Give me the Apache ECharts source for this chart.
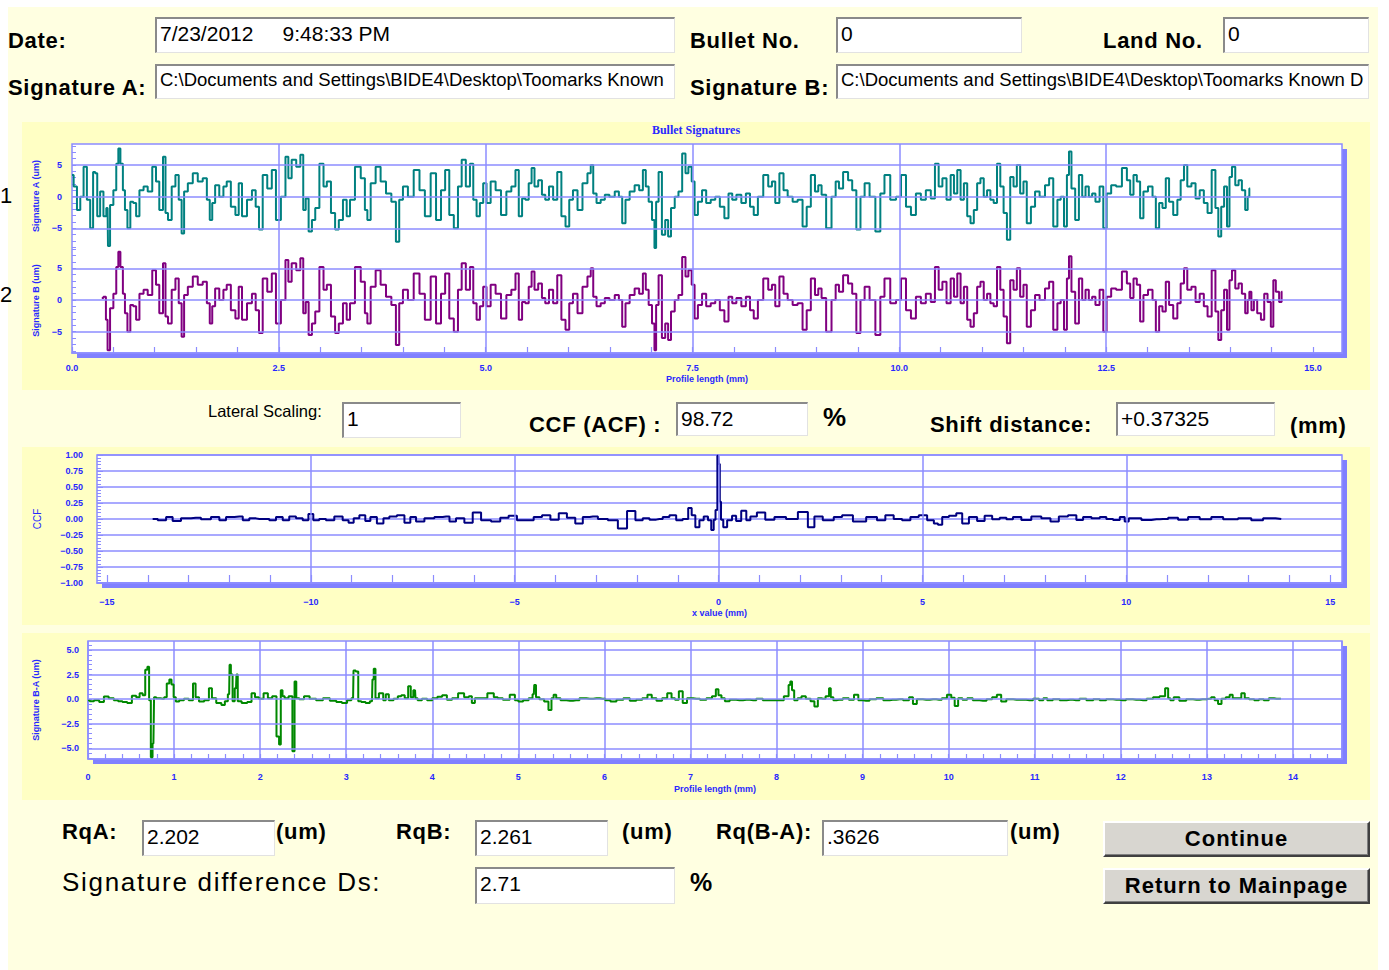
<!DOCTYPE html>
<html>
<head>
<meta charset="utf-8">
<title>Bullet Signatures</title>
<script src="https://cdn.jsdelivr.net/npm/echarts@6/dist/echarts.min.js"></script>
<style>
  html, body { margin: 0; padding: 0; background: #ffffff; }
  #page { position: relative; width: 1389px; height: 970px; overflow: hidden; background: #ffffff;
          font-family: Arial, "Liberation Sans", sans-serif; }
  #formBg { position: absolute; left: 8px; top: 7px; width: 1370px; height: 963px; background: #ffffe1; }
  #chart { position: absolute; left: 0; top: 0; width: 1389px; height: 970px; }
  .lbl { position: absolute; white-space: nowrap; color: #000; line-height: 1; }
  .b { font-weight: bold; font-size: 22px; letter-spacing: 0.7px; }
  .box { position: absolute; box-sizing: border-box; background: #fff; overflow: hidden; white-space: nowrap;
         border-top: 2px solid #8a8a8a; border-left: 2px solid #8a8a8a;
         border-right: 1px solid #e2e2e2; border-bottom: 1px solid #e2e2e2;
         font-size: 21px; line-height: 1; padding: 4px 0 0 3px; color: #000; }
  .box.path { font-size: 18.5px; padding-top: 5px; }
  .btn { position: absolute; box-sizing: border-box; background: #d8d6d0; text-align: center;
         border-top: 2px solid #ffffff; border-left: 2px solid #ffffff;
         border-right: 2px solid #404040; border-bottom: 2px solid #404040;
         box-shadow: inset -1px -1px 0 #808080;
         font-weight: bold; font-size: 22px; letter-spacing: 1px; line-height: 32px; color: #000; }
</style>
</head>
<body>
<div id="page">
  <div id="formBg"></div>
  <div id="chart"></div>

  <div class="lbl" style="left:0px;top:185px;font-size:22px;">1</div>
  <div class="lbl" style="left:0px;top:284px;font-size:22px;">2</div>

  <div class="lbl b" style="left:8px;top:30px;">Date:</div>
  <div class="box" style="left:155px;top:17px;width:520px;height:36px;">7/23/2012&nbsp;&nbsp;&nbsp;&nbsp;&nbsp;9:48:33 PM</div>
  <div class="lbl b" style="left:690px;top:30px;">Bullet No.</div>
  <div class="box" style="left:836px;top:17px;width:186px;height:36px;">0</div>
  <div class="lbl b" style="left:1103px;top:30px;">Land No.</div>
  <div class="box" style="left:1223px;top:17px;width:146px;height:36px;">0</div>

  <div class="lbl b" style="left:8px;top:77px;">Signature A:</div>
  <div class="box path" style="left:155px;top:64px;width:520px;height:35px;">C:\Documents and Settings\BIDE4\Desktop\Toomarks Known</div>
  <div class="lbl b" style="left:690px;top:77px;">Signature B:</div>
  <div class="box path" style="left:836px;top:64px;width:533px;height:35px;">C:\Documents and Settings\BIDE4\Desktop\Toomarks Known D</div>

  <div class="lbl" style="left:208px;top:403px;font-size:16.5px;">Lateral Scaling:</div>
  <div class="box" style="left:342px;top:402px;width:119px;height:36px;">1</div>
  <div class="lbl b" style="left:529px;top:414px;">CCF (ACF) :</div>
  <div class="box" style="left:676px;top:402px;width:132px;height:34px;">98.72</div>
  <div class="lbl" style="left:823px;top:404px;font-size:26px;font-weight:bold;">%</div>
  <div class="lbl b" style="left:930px;top:414px;">Shift distance:</div>
  <div class="box" style="left:1116px;top:402px;width:159px;height:34px;">+0.37325</div>
  <div class="lbl b" style="left:1290px;top:415px;">(mm)</div>

  <div class="lbl b" style="left:62px;top:821px;">RqA:</div>
  <div class="box" style="left:142px;top:820px;width:133px;height:36px;">2.202</div>
  <div class="lbl b" style="left:276px;top:821px;">(um)</div>
  <div class="lbl b" style="left:396px;top:821px;">RqB:</div>
  <div class="box" style="left:475px;top:820px;width:133px;height:36px;">2.261</div>
  <div class="lbl b" style="left:622px;top:821px;">(um)</div>
  <div class="lbl b" style="left:716px;top:821px;">Rq(B-A):</div>
  <div class="box" style="left:822px;top:820px;width:186px;height:36px;">.3626</div>
  <div class="lbl b" style="left:1010px;top:821px;">(um)</div>

  <div class="lbl" style="left:62px;top:869px;font-size:26px;letter-spacing:1.7px;">Signature difference Ds:</div>
  <div class="box" style="left:475px;top:867px;width:200px;height:37px;">2.71</div>
  <div class="lbl" style="left:690px;top:870px;font-size:25px;font-weight:bold;">%</div>

  <div class="btn" style="left:1103px;top:821px;width:267px;height:36px;">Continue</div>
  <div class="btn" style="left:1103px;top:868px;width:267px;height:36px;">Return to Mainpage</div>
</div>

<script>
// ---- Profile data (mm, um) ----
const signatureA = [
  [0.00,3.4],[0.04,1.6],[0.08,-2.1],[0.12,0],[0.16,4.7],[0.20,-0.5],[0.24,-5.0],[0.27,3.9],[0.29,3.7],[0.32,-3.1],
  [0.36,0.8],[0.40,-3.1],[0.43,-1.8],[0.44,-7.8],[0.48,-1.3],[0.52,1.0],[0.55,5.2],[0.57,7.6],[0.60,5.2],[0.63,1.0],
  [0.65,-2.1],[0.69,-5.0],[0.72,-0.8],[0.76,-1.0],[0.79,-3.1],[0.84,1.0],[0.89,1.6],[0.94,0.8],[1.00,4.7],[1.03,2.4],
  [1.08,-2.1],[1.12,6.3],[1.14,-2.6],[1.18,-3.7],[1.23,1.6],[1.27,3.4],[1.31,-0.5],[1.34,-5.8],[1.37,0.8],[1.43,2.1],
  [1.49,3.7],[1.55,2.4],[1.61,2.9],[1.65,-0.5],[1.68,-3.7],[1.71,-1.0],[1.75,1.8],[1.81,0],[1.85,1.6],[1.89,2.4],
  [1.95,-1.6],[2.00,-2.9],[2.03,2.1],[2.08,-3.1],[2.15,-0.5],[2.20,1.0],[2.24,-1.6],[2.28,-5.2],[2.33,3.4],[2.39,1.3],
  [2.44,4.2],[2.49,-3.7],[2.56,0],[2.60,6.3],[2.63,2.9],[2.68,5.8],[2.74,4.7],[2.78,6.6],[2.81,-2.1],[2.84,-0.3],
  [2.88,-5.5],[2.92,-3.7],[2.96,-1.8],[3.02,5.2],[3.06,1.6],[3.10,2.4],[3.16,-2.6],[3.20,-5.2],[3.25,-3.7],[3.30,-0.5],
  [3.34,-3.1],[3.38,-0.5],[3.46,4.7],[3.52,2.9],[3.56,-2.1],[3.58,-3.7],[3.64,2.1],[3.70,4.7],[3.76,2.4],[3.83,0.5],
  [3.89,-0.8],[3.94,-7.1],[3.97,-0.5],[4.03,1.6],[4.09,0],[4.17,4.2],[4.23,1.0],[4.30,-3.1],[4.37,3.7],[4.43,-3.7],
  [4.49,1.0],[4.53,4.2],[4.59,-2.9],[4.64,-5.0],[4.69,1.6],[4.73,5.8],[4.79,1.6],[4.83,5.2],[4.87,-0.5],[4.91,-3.1],
  [4.95,-1.0],[4.99,2.1],[5.03,-1.0],[5.09,2.4],[5.15,1.0],[5.22,-2.9],[5.28,0.8],[5.34,1.6],[5.38,4.2],[5.42,-3.1],
  [5.46,-0.3],[5.50,-0.5],[5.54,2.1],[5.57,4.5],[5.61,1.6],[5.66,2.6],[5.70,0.3],[5.74,-0.5],[5.79,1.6],[5.84,-0.5],
  [5.89,3.9],[5.94,-3.1],[5.99,-4.7],[6.03,-0.5],[6.08,1.0],[6.14,-2.1],[6.20,2.1],[6.26,3.7],[6.28,5.0],[6.32,0.5],
  [6.36,-1.0],[6.42,-0.5],[6.46,0.3],[6.53,0],[6.59,0.8],[6.63,0],[6.67,-4.2],[6.71,-0.5],[6.77,0.8],[6.83,1.8],
  [6.88,1.0],[6.92,4.2],[6.95,1.6],[6.99,-0.8],[7.03,-3.7],[7.05,-8.1],[7.07,-0.8],[7.11,3.9],[7.15,-6.0],[7.19,-3.7],
  [7.22,-6.3],[7.26,-1.8],[7.31,0],[7.35,0.8],[7.40,6.8],[7.43,3.7],[7.47,4.7],[7.51,2.4],[7.54,-2.9],[7.59,-0.8],
  [7.64,1.0],[7.69,-1.0],[7.75,-0.5],[7.80,0],[7.86,-1.6],[7.91,-3.4],[7.96,0.5],[8.00,-0.5],[8.06,0.3],[8.12,-1.0],
  [8.17,0.5],[8.22,-1.6],[8.26,-2.9],[8.32,0],[8.39,3.4],[8.44,1.6],[8.48,2.4],[8.52,-1.0],[8.58,3.7],[8.62,1.0],
  [8.68,0],[8.74,-0.8],[8.80,-0.5],[8.86,-4.7],[8.90,-1.6],[8.96,3.4],[9.00,0.8],[9.04,1.8],[9.08,0.3],[9.15,-5.0],
  [9.21,0],[9.25,2.4],[9.29,1.3],[9.35,3.9],[9.41,2.6],[9.45,1.0],[9.51,-5.2],[9.55,0],[9.61,2.1],[9.67,0],
  [9.75,-5.5],[9.79,0.5],[9.85,3.4],[9.93,-0.5],[9.99,0],[10.05,3.4],[10.11,-1.6],[10.17,-2.9],[10.23,0.5],[10.29,-0.5],
  [10.35,1.0],[10.41,-0.3],[10.45,5.2],[10.50,1.6],[10.54,2.9],[10.60,-0.5],[10.64,3.4],[10.68,0.5],[10.72,4.2],[10.76,-0.5],
  [10.80,2.1],[10.84,-3.1],[10.88,-4.2],[10.92,-2.1],[10.96,2.1],[11.00,2.9],[11.04,0],[11.08,1.0],[11.12,-0.5],[11.16,-1.0],
  [11.20,5.2],[11.24,1.6],[11.28,-2.6],[11.32,-6.8],[11.36,3.1],[11.40,1.6],[11.44,5.0],[11.48,0.5],[11.52,2.4],[11.56,-4.2],
  [11.62,-1.6],[11.66,0.8],[11.73,0],[11.79,1.8],[11.83,2.9],[11.89,-4.7],[11.93,-0.5],[11.97,0],[12.01,-4.7],[12.04,3.4],
  [12.06,7.1],[12.10,1.3],[12.15,-3.7],[12.19,3.4],[12.23,0],[12.27,1.6],[12.31,0],[12.35,0.5],[12.39,-0.8],[12.45,1.6],
  [12.48,-5.0],[12.53,0.5],[12.59,1.8],[12.65,1.6],[12.73,4.5],[12.77,2.6],[12.81,0.3],[12.85,3.4],[12.89,2.4],[12.93,-3.4],
  [12.97,0.8],[13.04,1.6],[13.08,0],[13.12,-5.0],[13.16,-1.0],[13.20,-1.8],[13.24,2.9],[13.28,-0.8],[13.34,-2.9],[13.38,-0.5],
  [13.42,2.6],[13.46,5.0],[13.50,1.6],[13.56,2.1],[13.60,-0.3],[13.66,1.0],[13.70,-1.0],[13.75,-2.6],[13.80,4.2],[13.84,-1.8],
  [13.87,-6.3],[13.91,-1.6],[13.94,1.6],[13.98,-4.7],[14.00,3.1],[14.04,4.7],[14.08,1.8],[14.12,2.6],[14.16,1.0],[14.20,-2.1],
  [14.22,0],[14.24,1.3]
];

const signatureB = [
  [0.36,0.3],[0.40,0.5],[0.42,-3.1],[0.44,-7.9],[0.48,-1.3],[0.52,1.0],[0.55,5.2],[0.57,7.6],[0.60,5.2],[0.63,1.0],
  [0.65,-2.1],[0.69,-5.0],[0.72,-0.8],[0.76,-1.0],[0.79,-3.1],[0.84,1.0],[0.89,1.6],[0.94,0.8],[1.00,4.7],[1.03,2.4],
  [1.08,-2.1],[1.12,5.8],[1.14,-2.6],[1.18,-3.7],[1.23,1.6],[1.27,3.4],[1.31,-0.5],[1.34,-5.8],[1.37,0.8],[1.43,2.1],
  [1.49,3.7],[1.55,2.4],[1.61,2.9],[1.65,-0.5],[1.68,-3.7],[1.71,-1.0],[1.75,1.8],[1.81,0],[1.85,1.6],[1.89,2.4],
  [1.95,-1.6],[2.00,-2.9],[2.03,2.1],[2.08,-3.1],[2.15,-0.5],[2.20,1.0],[2.24,-1.6],[2.28,-5.2],[2.33,3.4],[2.39,1.3],
  [2.44,4.2],[2.49,-3.7],[2.56,0],[2.60,6.3],[2.63,2.9],[2.68,5.8],[2.74,4.7],[2.78,6.6],[2.81,-2.1],[2.84,-0.3],
  [2.88,-5.5],[2.92,-3.7],[2.96,-1.8],[3.02,5.2],[3.06,1.6],[3.10,2.4],[3.16,-2.6],[3.20,-5.2],[3.25,-3.7],[3.30,-0.5],
  [3.34,-3.1],[3.38,-0.5],[3.46,5.2],[3.52,2.9],[3.56,-2.1],[3.58,-3.7],[3.64,2.1],[3.70,4.7],[3.76,2.4],[3.83,0.5],
  [3.89,-0.8],[3.94,-7.1],[3.97,-0.5],[4.03,1.6],[4.09,0],[4.17,4.2],[4.23,1.0],[4.30,-3.1],[4.37,3.7],[4.43,-3.7],
  [4.49,1.0],[4.53,4.2],[4.59,-2.9],[4.64,-5.0],[4.69,1.6],[4.73,5.8],[4.79,1.6],[4.83,5.2],[4.87,-0.5],[4.91,-3.1],
  [4.95,-1.0],[4.99,2.1],[5.03,-1.0],[5.09,2.4],[5.15,1.0],[5.22,-2.9],[5.28,0.8],[5.34,1.6],[5.38,4.2],[5.42,-3.1],
  [5.46,-0.3],[5.50,-0.5],[5.54,2.1],[5.57,4.5],[5.61,1.6],[5.66,2.6],[5.70,0.3],[5.74,-0.5],[5.79,1.6],[5.84,-0.5],
  [5.89,3.9],[5.94,-3.1],[5.99,-4.7],[6.03,-0.5],[6.08,1.0],[6.14,-2.1],[6.20,2.1],[6.26,3.7],[6.28,5.0],[6.32,0.5],
  [6.36,-1.0],[6.42,-0.5],[6.46,0.3],[6.53,0],[6.59,0.8],[6.63,0],[6.67,-4.2],[6.71,-0.5],[6.77,0.8],[6.83,1.8],
  [6.88,1.0],[6.92,4.2],[6.95,1.6],[6.99,-0.8],[7.03,-3.7],[7.05,-7.9],[7.07,-0.8],[7.11,3.9],[7.15,-6.0],[7.19,-3.7],
  [7.22,-6.3],[7.26,-1.8],[7.31,0],[7.35,0.8],[7.40,6.8],[7.43,3.7],[7.47,4.7],[7.51,2.4],[7.54,-2.9],[7.59,-0.8],
  [7.64,1.0],[7.69,-1.0],[7.75,-0.5],[7.80,0],[7.86,-1.6],[7.91,-3.4],[7.96,0.5],[8.00,-0.5],[8.06,0.3],[8.12,-1.0],
  [8.17,0.5],[8.22,-1.6],[8.26,-2.9],[8.32,0],[8.39,3.4],[8.44,1.6],[8.48,2.4],[8.52,-1.0],[8.58,3.7],[8.62,1.0],
  [8.68,0],[8.74,-0.8],[8.80,-0.5],[8.86,-4.7],[8.90,-1.6],[8.96,3.4],[9.00,0.8],[9.04,1.8],[9.08,0.3],[9.15,-5.0],
  [9.21,0],[9.25,2.4],[9.29,1.3],[9.35,3.9],[9.41,2.6],[9.45,1.0],[9.51,-5.2],[9.55,0],[9.61,2.1],[9.67,0],
  [9.75,-5.5],[9.79,0.5],[9.85,3.4],[9.93,-0.5],[9.99,0],[10.05,3.4],[10.11,-1.6],[10.17,-2.9],[10.23,0.5],[10.29,-0.5],
  [10.35,1.0],[10.41,-0.3],[10.45,5.2],[10.50,1.6],[10.54,2.9],[10.60,-0.5],[10.64,3.4],[10.68,0.5],[10.72,4.2],[10.76,-0.5],
  [10.80,2.1],[10.84,-3.1],[10.88,-4.2],[10.92,-2.1],[10.96,2.1],[11.00,2.9],[11.04,0],[11.08,1.0],[11.12,-0.5],[11.16,-1.0],
  [11.20,5.2],[11.24,1.6],[11.28,-2.6],[11.32,-6.8],[11.36,3.1],[11.40,1.6],[11.44,5.0],[11.48,0.5],[11.52,2.4],[11.56,-4.2],
  [11.62,-1.6],[11.66,0.8],[11.73,0],[11.79,1.8],[11.83,2.9],[11.89,-4.7],[11.93,-0.5],[11.97,0],[12.01,-4.7],[12.04,3.4],
  [12.06,6.9],[12.10,1.3],[12.15,-3.7],[12.19,3.4],[12.23,0],[12.27,1.6],[12.31,0],[12.35,0.5],[12.39,-0.8],[12.45,1.6],
  [12.48,-5.0],[12.53,0.5],[12.59,1.8],[12.65,1.6],[12.73,4.5],[12.77,2.6],[12.81,0.3],[12.85,3.4],[12.89,2.4],[12.93,-3.4],
  [12.97,0.8],[13.04,1.6],[13.08,0],[13.12,-5.0],[13.16,-1.0],[13.20,-1.8],[13.24,2.9],[13.28,-0.8],[13.34,-2.9],[13.38,-0.5],
  [13.42,2.6],[13.46,5.0],[13.50,1.6],[13.56,2.1],[13.60,-0.3],[13.66,1.0],[13.70,-1.0],[13.75,-2.6],[13.80,4.7],[13.84,-1.8],
  [13.87,-6.3],[13.91,-1.6],[13.94,1.6],[13.98,-4.7],[14.00,3.1],[14.04,4.7],[14.08,1.8],[14.12,2.6],[14.16,1.0],[14.20,-2.1],
  [14.22,0],[14.24,1.3],[14.27,-1.6],[14.30,0],[14.35,-2.1],[14.39,-3.1],[14.43,1.0],[14.47,-0.3],[14.51,-4.2],[14.53,3.1],
  [14.57,1.3],[14.61,-0.3],[14.63,1.3]
];

// cross-correlation function against shift (mm)
const ccfCurve = [
  [-13.88,0],[-13.63,-0.02],[-13.47,0.03],[-13.31,-0.03],[-13.06,0.01],[-12.82,0.02],[-12.57,-0.005],[-12.33,0.03],
  [-12.16,-0.02],[-12.0,0.03],[-11.75,0.04],[-11.59,-0.02],[-11.43,0.01],[-11.26,0.0],[-11.1,0.0],[-10.94,-0.02],
  [-10.77,0.03],[-10.61,-0.02],[-10.45,0.04],[-10.28,0.01],[-10.12,-0.02],[-10.0,0.08],[-9.88,-0.02],[-9.71,0.0],
  [-9.55,-0.02],[-9.3,0.04],[-9.14,-0.02],[-9.01,-0.06],[-8.89,0.01],[-8.73,0.06],[-8.6,-0.03],[-8.48,0.03],
  [-8.28,-0.07],[-8.16,0.01],[-7.99,0.04],[-7.79,0.06],[-7.62,-0.06],[-7.5,0.03],[-7.34,-0.04],[-7.09,0.01],
  [-6.85,0.03],[-6.68,0.04],[-6.52,-0.04],[-6.36,0.01],[-6.11,-0.06],[-5.95,0.1],[-5.70,-0.02],[-5.46,-0.04],
  [-5.25,0.02],[-5.05,0.05],[-4.84,-0.02],[-4.64,-0.02],[-4.43,0.03],[-4.23,0.06],[-4.02,-0.01],[-3.82,0.09],
  [-3.62,0.02],[-3.41,-0.07],[-3.25,0.03],[-3.08,0.04],[-2.84,0.0],[-2.59,-0.02],[-2.35,-0.15],[-2.14,0.125],
  [-1.94,-0.02],[-1.78,0.01],[-1.61,-0.01],[-1.45,0.0],[-1.29,0.03],[-1.12,0.06],[-0.96,-0.02],[-0.80,0.0],
  [-0.69,0.17],[-0.63,0.06],[-0.51,-0.13],[-0.43,-0.02],[-0.30,0.04],[-0.22,-0.02],[-0.14,-0.17],[-0.10,-0.01],
  [-0.05,0.14],[-0.01,0.9872],[0.02,0.86],[0.04,0.27],[0.08,-0.01],[0.15,-0.13],[0.27,-0.02],[0.39,0.05],
  [0.47,-0.03],[0.64,0.13],[0.72,-0.02],[0.84,0.04],[1.04,0.10],[1.25,-0.01],[1.49,0.03],[1.82,0.0],
  [2.07,0.11],[2.31,-0.13],[2.39,0.04],[2.72,-0.02],[2.93,0.03],[3.13,0.06],[3.46,-0.04],[3.78,0.03],
  [3.99,-0.02],[4.19,0.06],[4.40,0.0],[4.60,-0.02],[4.81,0.03],[5.01,0.06],[5.22,-0.02],[5.34,-0.07],
  [5.42,-0.09],[5.55,0.03],[5.75,0.05],[5.91,0.09],[6.04,-0.07],[6.24,0.03],[6.44,-0.03],[6.61,0.05],
  [6.81,-0.005],[6.98,0.02],[7.14,-0.005],[7.30,0.03],[7.55,-0.015],[7.79,0.04],[8.04,0.01],[8.24,-0.04],
  [8.45,0.04],[8.69,0.06],[8.86,-0.015],[9.02,0.03],[9.27,0.01],[9.43,0.03],[9.59,0.0],[9.76,-0.015],
  [9.92,0.03],[10.0,-0.04],[10.12,0.01],[10.25,0.01],[10.49,-0.015],[10.74,-0.005],[10.90,0.0],[11.15,0.02],
  [11.39,-0.01],[11.64,0.03],[11.96,-0.005],[12.21,0.03],[12.54,-0.005],[12.94,0.01],[13.19,-0.02],[13.52,0.01],
  [13.80,0.0]
];

// signature difference B - A over the overlapping length (mm, um)
const differenceBA = [
  [0.00,-0.1],[0.04,-0.2],[0.10,-0.1],[0.16,-0.3],[0.21,0.27],[0.27,0.1],[0.33,-0.1],[0.37,-0.2],[0.43,-0.3],[0.48,-0.4],
  [0.54,0.35],[0.58,0.2],[0.62,0.6],[0.65,0.4],[0.68,3.0],[0.70,3.3],[0.72,-0.1],[0.74,-5.9],[0.76,-4.5],[0.775,0.2],
  [0.81,0.1],[0.87,0.05],[0.90,0.2],[0.93,1.6],[0.96,2.0],[0.98,1.5],[1.01,0.2],[1.03,-0.25],[1.09,-0.1],[1.14,0.05],
  [1.20,-0.1],[1.24,1.6],[1.26,0.2],[1.32,-0.25],[1.38,-0.1],[1.43,1.1],[1.45,0.1],[1.53,-0.4],[1.57,-0.6],[1.61,-0.2],
  [1.64,0.5],[1.65,3.5],[1.67,2.5],[1.69,-0.2],[1.72,1.1],[1.73,2.5],[1.75,-0.2],[1.82,-0.4],[1.88,-0.3],[1.92,0.6],
  [1.96,0.2],[2.01,0.05],[2.07,0.6],[2.11,0.1],[2.17,0.3],[2.21,-3.8],[2.23,-4.6],[2.25,0.9],[2.27,0.3],[2.30,0.1],
  [2.36,0.3],[2.39,-5.3],[2.41,1.8],[2.43,0.1],[2.48,0],[2.54,0.3],[2.61,0.05],[2.69,-0.1],[2.77,0.1],[2.85,-0.15],
  [2.92,-0.3],[2.98,-0.4],[3.04,-0.1],[3.08,0.1],[3.09,2.9],[3.13,2.8],[3.15,-0.2],[3.20,-0.3],[3.25,-0.4],[3.30,-0.2],
  [3.31,2.0],[3.33,3.1],[3.35,0.1],[3.41,0.6],[3.45,-0.1],[3.47,0.5],[3.52,-0.1],[3.58,0.05],[3.62,0.3],[3.66,0.4],
  [3.70,0.1],[3.74,1.3],[3.76,0.2],[3.80,0.9],[3.81,0.1],[3.85,-0.1],[3.91,0.05],[3.97,-0.1],[4.03,0.1],[4.09,0.25],
  [4.14,0.4],[4.20,-0.05],[4.26,0.1],[4.34,0.6],[4.40,0.2],[4.45,0.3],[4.47,-0.4],[4.52,0.1],[4.59,0.1],[4.69,0.6],
  [4.74,0.2],[4.78,0.1],[4.86,-0.05],[4.94,0.45],[4.98,-0.1],[5.02,-0.25],[5.09,-0.1],[5.15,0.1],[5.18,0.5],[5.19,1.45],
  [5.22,0.2],[5.27,0],[5.33,-0.25],[5.37,-1.1],[5.40,0.1],[5.42,0.45],[5.46,0.1],[5.52,-0.1],[5.60,-0.15],[5.67,-0.1],
  [5.75,0.1],[5.83,0.05],[5.91,0.1],[5.98,0.05],[6.04,-0.1],[6.10,-0.25],[6.18,-0.05],[6.26,0.1],[6.33,-0.15],[6.41,-0.05],
  [6.47,0.1],[6.53,0.45],[6.57,0.1],[6.64,-0.15],[6.70,0.1],[6.76,0.6],[6.80,0.1],[6.84,-0.05],[6.89,0.8],[6.93,-0.4],
  [6.99,0.1],[7.07,0.05],[7.15,-0.05],[7.22,0.1],[7.28,0.3],[7.31,1.0],[7.34,0.4],[7.38,0.1],[7.42,-0.2],[7.49,-0.05],
  [7.57,-0.1],[7.65,-0.05],[7.73,-0.1],[7.80,0.05],[7.88,-0.1],[7.96,-0.1],[8.04,-0.1],[8.13,0.3],[8.15,1.45],[8.17,1.8],
  [8.19,0.9],[8.22,-0.1],[8.27,0.1],[8.31,0.3],[8.37,0.05],[8.42,-0.2],[8.46,-0.75],[8.50,0.1],[8.54,0.05],[8.60,0.3],
  [8.62,1.1],[8.64,0.2],[8.68,-0.1],[8.73,-0.05],[8.81,0.1],[8.87,-0.05],[8.93,0.45],[8.97,-0.1],[9.04,-0.15],[9.12,0],
  [9.20,0.1],[9.28,-0.1],[9.35,-0.05],[9.43,0],[9.51,-0.1],[9.57,0.2],[9.60,-0.5],[9.66,0],[9.74,-0.05],[9.82,0],
  [9.89,-0.05],[9.95,0.1],[10.01,0.45],[10.05,0.15],[10.09,-0.7],[10.13,0.1],[10.19,-0.05],[10.24,0.1],[10.32,-0.1],[10.40,-0.15],
  [10.48,0],[10.53,0.2],[10.59,0.45],[10.63,-0.25],[10.71,0],[10.79,-0.05],[10.86,-0.05],[10.94,-0.1],[11.02,0.05],[11.08,-0.1],
  [11.12,0.1],[11.17,-0.1],[11.25,0],[11.33,-0.1],[11.41,-0.05],[11.48,-0.1],[11.56,0.05],[11.64,-0.1],[11.72,0],[11.79,-0.1],
  [11.87,0],[11.95,-0.05],[12.02,-0.1],[12.10,0],[12.18,-0.05],[12.26,-0.1],[12.34,0.05],[12.41,0.2],[12.49,0.3],[12.54,1.1],
  [12.56,0.1],[12.59,-0.1],[12.64,0.2],[12.72,-0.15],[12.80,0],[12.88,-0.05],[12.95,0],[13.03,0.05],[13.07,0.2],[13.11,-0.1],
  [13.15,-0.5],[13.19,0.05],[13.25,0.2],[13.28,0.45],[13.32,0.1],[13.38,0.1],[13.42,0.6],[13.46,0.1],[13.52,0],[13.58,-0.1],
  [13.63,0],[13.69,-0.1],[13.75,0.1],[13.81,0.05],[13.86,0.05]
];

// ---- Tick labels ----
const sigXLabels = [0, 2.5, 5, 7.5, 10, 12.5, 15];
const sigYLabels = [-5, 0, 5];
const ccfXLabels = [-15, -10, -5, 0, 5, 10, 15];
const difYLabels = [-5, -2.5, 0, 2.5, 5];

// ---- Layout & style ----
const TXT = '#2828ff';
const GRID = '#8c8cff';
const SHADOW = '#8080ff';
const PANEL = '#ffffc4';
const axisFont = { color: TXT, fontSize: 9, fontWeight: 'bold', fontFamily: 'Arial, "Liberation Sans", sans-serif' };
const nameFont = { color: TXT, fontSize: 9, fontWeight: 'bold', fontFamily: 'Arial, "Liberation Sans", sans-serif' };

const plotSig = { left: 72, top: 144, width: 1270, height: 209 };
const plotCcf = { left: 97, top: 455, width: 1245, height: 128 };
const plotDif = { left: 88, top: 641, width: 1254, height: 118 };
const sigSplit = 104; // height of the upper (signature A) band

function steps(from, to, step) {
  const out = [];
  for (let v = from; v <= to + 1e-9; v += step) out.push(Math.round(v * 1000) / 1000);
  return out;
}
const minus = v => String(v).replace('-', '\u2212');

function gridLines(hVals, vVals) {
  const data = [];
  hVals.forEach(v => data.push({ yAxis: v }));
  vVals.forEach(v => data.push({ xAxis: v }));
  return {
    silent: true, symbol: 'none', animation: false,
    label: { show: false },
    lineStyle: { color: GRID, width: 1.5, type: 'solid' },
    emphasis: { disabled: true },
    data
  };
}

function plotFrame(p) {
  return [
    { type: 'rect', z: -9, silent: true,
      shape: { x: p.left + 5, y: p.top + 5, width: p.width, height: p.height },
      style: { fill: SHADOW } },
    { type: 'rect', z: -8, silent: true,
      shape: { x: p.left, y: p.top, width: p.width, height: p.height },
      style: { fill: '#ffffff', stroke: GRID, lineWidth: 1.5 } }
  ];
}

const xLine = { show: true, onZero: false, lineStyle: { color: GRID, width: 1.5 } };
const yLine = { show: false, onZero: false };
const yTickCommon = { show: true, inside: true, length: 4, lineStyle: { color: GRID, width: 1 } };

const option = {
  animation: false,
  backgroundColor: 'transparent',
  graphic: [
    { type: 'rect', z: -10, silent: true, shape: { x: 22, y: 122, width: 1348, height: 268 }, style: { fill: PANEL } },
    { type: 'rect', z: -10, silent: true, shape: { x: 22, y: 447, width: 1348, height: 178 }, style: { fill: PANEL } },
    { type: 'rect', z: -10, silent: true, shape: { x: 22, y: 633, width: 1348, height: 167 }, style: { fill: PANEL } },
    ...plotFrame(plotSig), ...plotFrame(plotCcf), ...plotFrame(plotDif),
    { type: 'text', z: 5, silent: true, x: 696, y: 130,
      style: { text: 'Bullet Signatures', fill: TXT, font: 'bold 12px "Liberation Serif", "Times New Roman", serif',
               textAlign: 'center', textVerticalAlign: 'middle' } }
  ],
  grid: [
    { left: plotSig.left, top: plotSig.top, width: plotSig.width, height: sigSplit },
    { left: plotSig.left, top: plotSig.top + sigSplit, width: plotSig.width, height: plotSig.height - sigSplit },
    { left: plotCcf.left, top: plotCcf.top, width: plotCcf.width, height: plotCcf.height },
    { left: plotDif.left, top: plotDif.top, width: plotDif.width, height: plotDif.height }
  ],
  xAxis: [
    { type: 'value', gridIndex: 0, min: 0, max: 15.35, show: false, axisLine: { onZero: false } },
    { type: 'value', gridIndex: 1, min: 0, max: 15.35, position: 'bottom',
      axisLine: xLine,
      axisTick: { show: true, inside: true, length: 6, customValues: steps(0, 15, 0.5), lineStyle: { color: GRID, width: 1.2 } },
      axisLabel: { ...axisFont, margin: 10, customValues: sigXLabels, formatter: v => v.toFixed(1) },
      splitLine: { show: false },
      name: 'Profile length (mm)', nameLocation: 'middle', nameGap: 21, nameTextStyle: nameFont },
    { type: 'value', gridIndex: 2, min: -15.245, max: 15.29, position: 'bottom',
      axisLine: xLine,
      axisTick: { show: true, inside: true, length: 8, customValues: steps(-15, 15, 1), lineStyle: { color: GRID, width: 1.2 } },
      axisLabel: { ...axisFont, margin: 14, customValues: ccfXLabels, formatter: v => minus(v) },
      splitLine: { show: false },
      name: 'x value (mm)', nameLocation: 'middle', nameGap: 25, nameTextStyle: nameFont },
    { type: 'value', gridIndex: 3, min: 0, max: 14.57, interval: 1, position: 'bottom',
      axisLine: xLine,
      axisTick: { show: true, inside: true, length: 5, lineStyle: { color: GRID, width: 1.2 } },
      minorTick: { show: true, splitNumber: 5, length: 5, lineStyle: { color: GRID, width: 1.2 } },
      axisLabel: { ...axisFont, margin: 13, showMaxLabel: false },
      splitLine: { show: true, lineStyle: { color: GRID, width: 1.5 } },
      name: 'Profile length (mm)', nameLocation: 'middle', nameGap: 25, nameTextStyle: nameFont }
  ],
  yAxis: [
    { type: 'value', gridIndex: 0, min: -8.1, max: 8.3, position: 'left',
      axisLine: yLine,
      axisTick: { ...yTickCommon, customValues: steps(-8, 8, 1) },
      axisLabel: { ...axisFont, margin: 10, customValues: sigYLabels, formatter: v => minus(v) },
      splitLine: { show: false },
      name: 'Signature A (um)', nameLocation: 'middle', nameGap: 32, nameRotate: 90, nameTextStyle: nameFont },
    { type: 'value', gridIndex: 1, min: -8.35, max: 8.2, position: 'left',
      axisLine: yLine,
      axisTick: { ...yTickCommon, customValues: steps(-8, 8, 1) },
      axisLabel: { ...axisFont, margin: 10, customValues: sigYLabels, formatter: v => minus(v) },
      splitLine: { show: false },
      name: 'Signature B (um)', nameLocation: 'middle', nameGap: 32, nameRotate: 90, nameTextStyle: nameFont },
    { type: 'value', gridIndex: 2, min: -1, max: 1, interval: 0.25, position: 'left',
      axisLine: yLine,
      axisTick: { show: true, inside: true, length: 6, lineStyle: { color: GRID, width: 1 } },
      minorTick: { show: true, splitNumber: 5, length: 4, lineStyle: { color: GRID, width: 1 } },
      axisLabel: { ...axisFont, margin: 14, formatter: v => minus(v.toFixed(2)) },
      splitLine: { show: true, lineStyle: { color: GRID, width: 1.5 } },
      name: 'CCF', nameLocation: 'middle', nameGap: 55, nameRotate: 90,
      nameTextStyle: { ...nameFont, fontSize: 10, fontWeight: 'normal' } },
    { type: 'value', gridIndex: 3, min: -6.08, max: 5.91, position: 'left',
      axisLine: yLine,
      axisTick: { show: true, inside: true, length: 4, customValues: steps(-6, 5.5, 0.5), lineStyle: { color: GRID, width: 1 } },
      axisLabel: { ...axisFont, margin: 9, customValues: difYLabels, formatter: v => minus(v.toFixed(1)) },
      splitLine: { show: false },
      name: 'Signature B-A (um)', nameLocation: 'middle', nameGap: 48, nameRotate: 90, nameTextStyle: nameFont }
  ],
  series: [
    // grid lines drawn beneath the traces
    { type: 'line', xAxisIndex: 0, yAxisIndex: 0, data: [], z: 1, silent: true,
      markLine: gridLines(sigYLabels, [2.5, 5, 7.5, 10, 12.5]) },
    { type: 'line', xAxisIndex: 1, yAxisIndex: 1, data: [], z: 1, silent: true,
      markLine: gridLines(sigYLabels, [2.5, 5, 7.5, 10, 12.5]) },
    { type: 'line', xAxisIndex: 2, yAxisIndex: 2, data: [], z: 1, silent: true,
      markLine: gridLines([], [-10, -5, 0, 5, 10]) },
    { type: 'line', xAxisIndex: 3, yAxisIndex: 3, data: [], z: 1, silent: true,
      markLine: gridLines(difYLabels, []) },

    { name: 'Signature A', type: 'line', xAxisIndex: 0, yAxisIndex: 0, data: signatureA, step: 'middle',
      showSymbol: false, silent: true, z: 3, lineStyle: { color: '#008080', width: 2 } },
    { name: 'Signature B', type: 'line', xAxisIndex: 1, yAxisIndex: 1, data: signatureB, step: 'middle',
      showSymbol: false, silent: true, z: 3, lineStyle: { color: '#800080', width: 2 } },
    { name: 'CCF', type: 'line', xAxisIndex: 2, yAxisIndex: 2, data: ccfCurve, step: 'middle',
      showSymbol: false, silent: true, z: 3, lineStyle: { color: '#000080', width: 2 } },
    { name: 'B-A', type: 'line', xAxisIndex: 3, yAxisIndex: 3, data: differenceBA, step: 'middle',
      showSymbol: false, silent: true, z: 3, lineStyle: { color: '#008800', width: 2 } }
  ]
};

const chart = echarts.init(document.getElementById('chart'), null, { renderer: 'svg', width: 1389, height: 970 });
chart.setOption(option);
</script>
</body>
</html>
